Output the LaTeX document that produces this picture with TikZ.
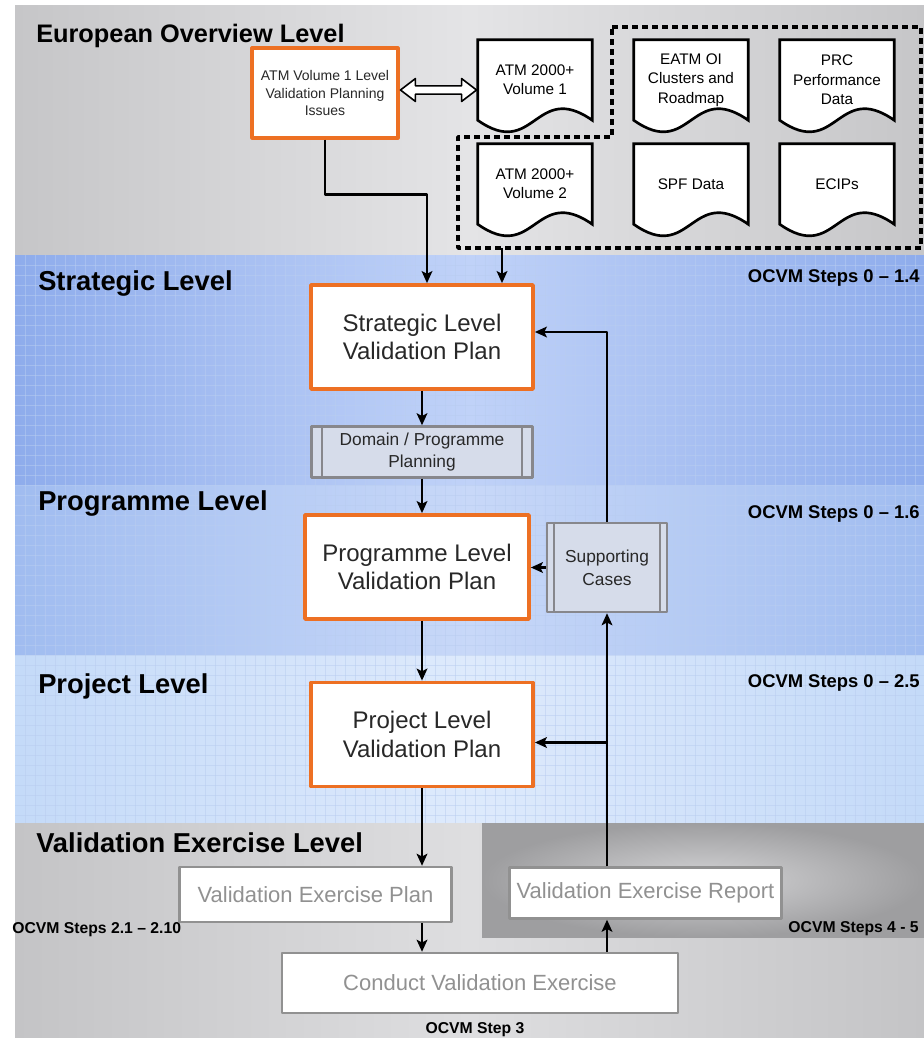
\documentclass[tikz,border=0pt]{standalone}
\usepackage{fontspec}
\setmainfont{Liberation Sans}
\usetikzlibrary{arrows.meta,calc,shapes.arrows}

\definecolor{planorange}{RGB}{237,112,35}
\definecolor{textdark}{RGB}{40,40,40}
\definecolor{procgray}{RGB}{135,135,140}
\definecolor{procfill}{RGB}{214,220,234}
\definecolor{exgray}{RGB}{145,145,145}
\definecolor{topgray}{RGB}{198,198,200}
\definecolor{topgraymid}{RGB}{228,228,230}
\definecolor{stratblue}{RGB}{142,172,236}
\definecolor{stratmid}{RGB}{192,210,248}
\definecolor{progblue}{RGB}{160,188,240}
\definecolor{progmid}{RGB}{200,216,248}
\definecolor{projblue}{RGB}{196,218,248}
\definecolor{projmid}{RGB}{222,234,252}
\definecolor{botgray}{RGB}{196,196,198}
\definecolor{botgraymid}{RGB}{222,222,224}
\definecolor{exdark}{RGB}{158,158,160}
\definecolor{exlight}{RGB}{212,212,214}
\definecolor{gridblue}{RGB}{185,205,240}

\pgfdeclarelayer{back}
\pgfsetlayers{back,main}

\tikzset{
  lvltitle/.style={anchor=base west, inner sep=0pt, text=black, font=\fontsize{20.5}{24}\selectfont\bfseries},
  stepnote/.style={anchor=base east, inner sep=0pt, font=\fontsize{13.8}{16}\selectfont\bfseries},
  lowstep/.style={inner sep=0pt, font=\fontsize{11.8}{14}\selectfont\bfseries},
  gridln/.style={draw=gridblue, opacity=0.5, line width=0.5pt},
  docnode/.style={minimum width=85.5pt, minimum height=60pt, inner sep=0pt, align=center, font=\fontsize{11.5}{14.5}\selectfont},
  docline/.style={fill=white, draw=black, line width=2pt},
  grpframe/.style={draw=black, line width=2.6pt, dash pattern=on 4.5pt off 3pt},
  dblarrow/.style={double arrow, draw=black, fill=white, line width=1.2pt, minimum height=57pt, inner xsep=0pt, inner ysep=2.5pt, double arrow head extend=5.5pt, double arrow tip angle=75},
  planbox/.style={draw=planorange, line width=2.8pt, fill=white, align=center, text=textdark, font=\fontsize{18}{21.5}\selectfont, minimum width=166.5pt, minimum height=78pt, inner sep=0pt},
  procbox/.style={draw=procgray, line width=1.8pt, fill=procfill, align=center, text=textdark, font=\fontsize{13}{17}\selectfont, inner sep=0pt},
  procline/.style={draw=procgray, line width=1.4pt},
  exbox/.style={draw=exgray, line width=1.8pt, fill=white, text=exgray, font=\fontsize{16.5}{20}\selectfont, inner sep=0pt},
  flow/.style={->, draw=black, line width=2.2pt}
}

\begin{document}
\begin{tikzpicture}[x=0.75pt, y=-0.75pt, line join=round, >={Stealth[length=9pt,width=8pt,inset=2pt]}]
\useasboundingbox (0,0) rectangle (924,1039);
\begin{pgfonlayer}{back}
  % level bands
  \shade[left color=topgray, right color=topgray, middle color=topgraymid] (15,5) rectangle (924,255);
  \shade[left color=stratblue, right color=stratblue, middle color=stratmid] (15,255) rectangle (924,485);
  \shade[left color=progblue, right color=progblue, middle color=progmid] (15,485) rectangle (924,655);
  \shade[left color=projblue, right color=projblue, middle color=projmid] (15,655) rectangle (924,823);
  \shade[left color=botgray, right color=botgray, middle color=botgraymid] (15,823) rectangle (924,1037);
  \shade[inner color=exlight, outer color=exdark] (482,823) rectangle (924,937);
  \foreach \gx in {25,35,...,915} \draw[gridln] (\gx,255) -- (\gx,823);
  \foreach \gy in {265,275,...,815} \draw[gridln] (15,\gy) -- (924,\gy);
\end{pgfonlayer}

% level titles and OCVM steps
\node[lvltitle, font=\fontsize{19}{22}\selectfont\bfseries] (eurtitle) at (36,42) {European Overview Level};
\node[lvltitle] (strattitle) at (38,290) {Strategic Level};
\node[lvltitle] (progtitle) at (38,510) {Programme Level};
\node[lvltitle] (projtitle) at (38,693) {Project Level};
\node[lvltitle] (vxtitle) at (36,852) {Validation Exercise Level};
\node[stepnote] (stratsteps) at (920,282) {OCVM Steps 0 – 1.4};
\node[stepnote] (progsteps) at (920,518) {OCVM Steps 0 – 1.6};
\node[stepnote] (projsteps) at (920,687) {OCVM Steps 0 – 2.5};
\node[lowstep, anchor=base west] (plansteps) at (12,933) {OCVM Steps 2.1 – 2.10};
\node[lowstep, anchor=base east] (reportsteps) at (919,932) {OCVM Steps 4 - 5};
\node[lowstep, anchor=base] (conductsteps) at (475,1033) {OCVM Step 3};

% european overview
\node[planbox, minimum width=109.5pt, minimum height=67.5pt, line width=2.4pt, font=\fontsize{10.5}{13}\selectfont] (issues) at (325,93) {ATM Volume 1 Level\\Validation Planning\\Issues};
\node[docnode] (vola) at (535,80) {ATM 2000+\\Volume 1};
\node[docnode] (eatm) at (691,80) {EATM OI\\Clusters and\\Roadmap};
\node[docnode] (prc) at (837,80) {PRC\\Performance\\Data};
\node[docnode] (volb) at (535,184) {ATM 2000+\\Volume 2};
\node[docnode] (spf) at (691,184) {SPF Data};
\node[docnode] (ecip) at (837,184) {ECIPs};
\begin{pgfonlayer}{back}
  \foreach \d in {vola,eatm,prc,volb,spf,ecip}
    \filldraw[docline] (\d.south west) -- (\d.north west) -- (\d.north east) -- (\d.south east)
      .. controls +(-57,-40) and +(57,40) .. (\d.south west) -- cycle;
\end{pgfonlayer}
\draw[grpframe] (612,27) -- (921,27) -- (921,248) -- (458,248) -- (458,137) -- (612,137) -- cycle;
\coordinate (grpout) at (502,248);
\node[dblarrow] (link) at (438.5,90) {};

% planning levels
\node[planbox] (strat) at (422,337) {Strategic Level\\Validation Plan};
\node[procbox, minimum width=165.75pt, minimum height=38.25pt] (dom) at (422,452) {Domain / Programme\\Planning};
\node[planbox, minimum width=168pt] (prog) at (417,567) {Programme Level\\Validation Plan};
\node[procbox, minimum width=90pt, minimum height=66.75pt] (sup) at (607,567.5) {Supporting\\Cases};
\node[planbox] (proj) at (422,734.5) {Project Level\\Validation Plan};
\foreach \p/\s in {dom/9pt,sup/6pt} {
  \draw[procline] ([xshift=\s]\p.north west) -- ([xshift=\s]\p.south west);
  \draw[procline] ([xshift=-\s]\p.north east) -- ([xshift=-\s]\p.south east);
}

% validation exercise
\node[exbox, minimum width=204pt, minimum height=41.25pt] (plan) at (315.5,894.5) {Validation Exercise Plan};
\node[exbox, minimum width=204pt, minimum height=38.25pt] (report) at (645.5,893) {Validation Exercise Report};
\node[exbox, minimum width=297pt, minimum height=45pt] (conduct) at (480,983) {Conduct Validation Exercise};

% connectors
\draw[flow] (issues.south) |- ++(102,55) -- ($(strat.north)+(5,0)$);
\draw[flow] (grpout) -- (grpout |- strat.north);
\draw[flow] (strat.south) -- (dom.north);
\draw[flow] (dom.south) -- (dom.south |- prog.north);
\draw[flow] (proj.north |- prog.south) -- (proj.north);
\draw[flow] (proj.south) -- (proj.south |- plan.north);
\draw[flow] (proj.south |- plan.south) -- (proj.south |- conduct.north);
\draw[flow] (sup.south |- conduct.north) -- (sup.south |- report.south);
\draw[flow] (sup.south |- report.north) -- (sup.south);
\draw[flow] ($(sup.south |- proj.east)+(0,8)$) -- ($(proj.east)+(0,8)$);
\draw[flow] (sup.north) |- ($(strat.east)+(0,-5)$);
\draw[flow] (sup.west) -- (sup.west -| prog.east);
\end{tikzpicture}
\end{document}
